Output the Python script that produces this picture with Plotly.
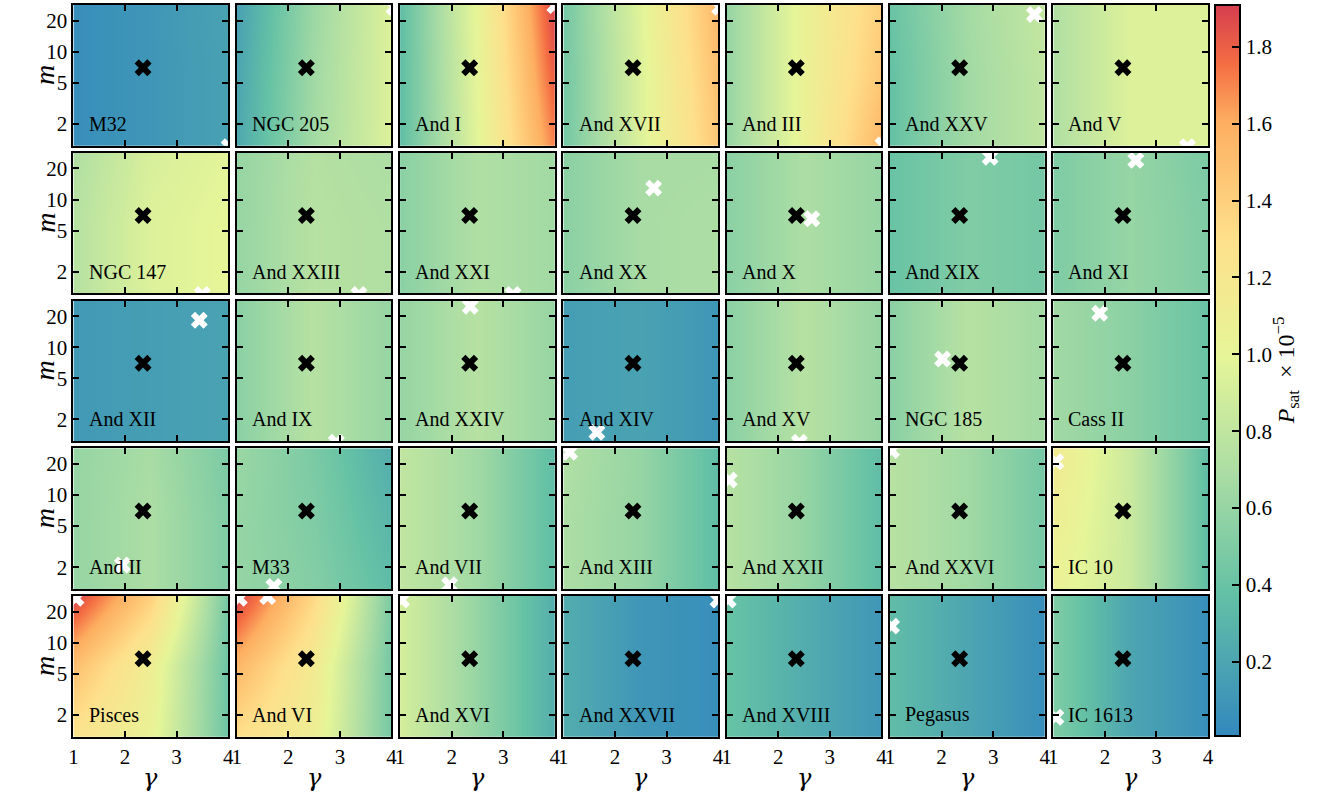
import numpy as np
import plotly.graph_objects as go

# ---------------- data ----------------
# grid nodes: columns gamma = 1, 2.5, 4 ; rows m = bottom, middle, top
gamma_nodes = [1.0, 2.5, 4.0]
m_nodes = [1.23, 5.9, 28.4]
black_marker = (2.35, 7.0)

names = [
    ["M32", "NGC 205", "And I", "And XVII", "And III", "And XXV", "And V"],
    ["NGC 147", "And XXIII", "And XXI", "And XX", "And X", "And XIX", "And XI"],
    ["And XII", "And IX", "And XXIV", "And XIV", "And XV", "NGC 185", "Cass II"],
    ["And II", "M33", "And VII", "And XIII", "And XXII", "And XXVI", "IC 10"],
    ["Pisces", "And VI", "And XVI", "And XXVII", "And XVIII", "Pegasus", "IC 1613"],
]

# P_sat (x 1e-5) on grid: [m_bottom row, m_mid row, m_top row], each [g=1, g=2.5, g=4]
p_m32      = [[0.05, 0.10, 0.17], [0.05, 0.10, 0.17], [0.05, 0.10, 0.18]]
p_ngc205   = [[0.22, 0.66, 0.95], [0.20, 0.65, 0.95], [0.17, 0.63, 0.95]]
p_and1     = [[0.36, 0.98, 1.72], [0.36, 1.00, 1.82], [0.36, 1.02, 1.90]]
p_and17    = [[0.45, 0.95, 1.45], [0.45, 0.95, 1.50], [0.45, 0.97, 1.55]]
p_and3     = [[0.60, 1.05, 1.55], [0.60, 1.05, 1.45], [0.60, 1.05, 1.40]]
p_and25    = [[0.38, 0.65, 0.80], [0.38, 0.65, 0.80], [0.40, 0.66, 0.82]]
p_and5     = [[0.72, 0.95, 0.95], [0.72, 0.95, 0.95], [0.72, 0.95, 0.95]]

p_ngc147   = [[0.75, 0.95, 1.00], [0.75, 0.95, 1.00], [0.72, 0.92, 0.98]]
p_and23    = [[0.60, 0.75, 0.72], [0.60, 0.75, 0.72], [0.60, 0.74, 0.70]]
p_and21    = [[0.55, 0.72, 0.65], [0.55, 0.72, 0.65], [0.55, 0.72, 0.65]]
p_and20    = [[0.55, 0.68, 0.70], [0.55, 0.68, 0.70], [0.55, 0.68, 0.68]]
p_and10    = [[0.55, 0.70, 0.60], [0.55, 0.70, 0.60], [0.55, 0.70, 0.60]]
p_and19    = [[0.40, 0.50, 0.45], [0.40, 0.50, 0.45], [0.40, 0.50, 0.45]]
p_and11    = [[0.50, 0.60, 0.50], [0.50, 0.60, 0.50], [0.50, 0.60, 0.48]]

p_and12    = [[0.12, 0.15, 0.18], [0.12, 0.15, 0.18], [0.12, 0.15, 0.18]]
p_and9     = [[0.55, 0.75, 0.60], [0.55, 0.75, 0.60], [0.55, 0.75, 0.60]]
p_and24    = [[0.60, 0.75, 0.60], [0.60, 0.75, 0.60], [0.60, 0.75, 0.60]]
p_and14    = [[0.15, 0.18, 0.10], [0.15, 0.18, 0.10], [0.15, 0.18, 0.10]]
p_and15    = [[0.55, 0.75, 0.60], [0.55, 0.75, 0.60], [0.55, 0.75, 0.60]]
p_ngc185   = [[0.55, 0.75, 0.65], [0.55, 0.75, 0.65], [0.55, 0.75, 0.65]]
p_cass2    = [[0.65, 0.55, 0.40], [0.65, 0.55, 0.40], [0.65, 0.55, 0.40]]

p_and2     = [[0.60, 0.70, 0.50], [0.60, 0.70, 0.50], [0.60, 0.68, 0.48]]
p_m33      = [[0.60, 0.52, 0.35], [0.60, 0.50, 0.30], [0.62, 0.48, 0.25]]
p_and7     = [[0.80, 0.65, 0.35], [0.80, 0.65, 0.35], [0.80, 0.65, 0.35]]
p_and13    = [[0.70, 0.60, 0.35], [0.70, 0.60, 0.35], [0.72, 0.60, 0.35]]
p_and22    = [[0.75, 0.60, 0.35], [0.75, 0.60, 0.35], [0.75, 0.60, 0.35]]
p_and26    = [[0.75, 0.65, 0.45], [0.75, 0.65, 0.45], [0.75, 0.65, 0.45]]
p_ic10     = [[1.05, 0.85, 0.35], [1.10, 0.85, 0.35], [1.15, 0.85, 0.35]]

p_pisces   = [[1.25, 1.05, 0.42], [1.50, 1.10, 0.42], [1.90, 1.40, 0.45]]
p_and6     = [[1.30, 1.10, 0.45], [1.55, 1.15, 0.45], [1.90, 1.35, 0.48]]
p_and16    = [[0.90, 0.60, 0.25], [0.90, 0.60, 0.25], [0.90, 0.60, 0.25]]
p_and27    = [[0.25, 0.10, 0.05], [0.25, 0.10, 0.05], [0.25, 0.10, 0.05]]
p_and18    = [[0.40, 0.25, 0.10], [0.40, 0.25, 0.10], [0.40, 0.25, 0.10]]
p_pegasus  = [[0.35, 0.20, 0.05], [0.35, 0.20, 0.05], [0.35, 0.20, 0.05]]
p_ic1613   = [[0.50, 0.20, 0.05], [0.50, 0.20, 0.05], [0.50, 0.20, 0.05]]

psat_grids = [
    [p_m32, p_ngc205, p_and1, p_and17, p_and3, p_and25, p_and5],
    [p_ngc147, p_and23, p_and21, p_and20, p_and10, p_and19, p_and11],
    [p_and12, p_and9, p_and24, p_and14, p_and15, p_ngc185, p_cass2],
    [p_and2, p_m33, p_and7, p_and13, p_and22, p_and26, p_ic10],
    [p_pisces, p_and6, p_and16, p_and27, p_and18, p_pegasus, p_ic1613],
]

# white markers (gamma, m) per panel
white_gamma = [
    [[4.02], [4.05], [4.0], [4.03], [4.03], [3.8], [3.6]],
    [[3.5], [3.37], [3.19], [2.75], [2.65], [2.94], [2.6]],
    [[3.44], [2.93], [2.36], [1.65], [2.41], [2.02], [1.9]],
    [[1.95], [1.72], [1.96], [1.12], [1.05], [1.03], [1.05]],
    [[1.05], [1.05, 1.6], [1.03], [4.0], [1.03], [1.03], [1.05]],
]
white_m = [
    [[1.2], [27], [28], [27], [1.25], [23], [1.2]],
    [[1.2], [1.2], [1.2], [12.9], [6.5], [25.7], [24]],
    [[18.3], [1.2], [25], [1.5], [1.2], [7.7], [21.4]],
    [[2.1], [1.3], [1.35], [26], [14], [27], [21]],
    [[27], [27, 28], [26], [26], [26], [14.5], [1.9]],
]

cbar_ticks = [0.2, 0.4, 0.6, 0.8, 1.0, 1.2, 1.4, 1.6, 1.8]
cmin, cmax = 0.007, 1.909

colorscale = [
    [0.00, "#3288bd"], [0.20, "#66c2a5"], [0.36, "#abdda4"], [0.52, "#e6f598"],
    [0.68, "#fee08b"], [0.84, "#fdae61"], [0.92, "#f46d43"], [1.00, "#d53e4f"],
]

# ---------------- layout geometry ----------------
W, H = 1336, 794
col_left0, col_step, col_w = 69, 164.67, 156
row_top0, row_step, row_h = 5, 147.75, 140.7
FONT = "Liberation Serif"

fig = go.Figure()
ytick_vals = [2, 5, 10, 20]
ylog_range = [np.log10(m_nodes[0]), np.log10(m_nodes[-1])]

annotations = []
k = 0
for r in range(5):
    for c in range(7):
        k += 1
        xa = "x" if k == 1 else f"x{k}"
        ya = "y" if k == 1 else f"y{k}"
        left = col_left0 + c * col_step
        top = row_top0 + r * row_step
        xd = [left / W, (left + col_w) / W]
        yd = [(H - (top + row_h)) / H, (H - top) / H]

        fig.add_trace(go.Heatmap(
            x=gamma_nodes, y=np.log10(m_nodes), z=psat_grids[r][c],
            coloraxis="coloraxis", zsmooth="best", xaxis=xa, yaxis=ya,
            hoverinfo="skip", showscale=False))
        fig.add_trace(go.Scatter(
            x=white_gamma[r][c], y=np.log10(white_m[r][c]), mode="markers",
            marker=dict(symbol="x", size=15, color="white", line=dict(width=0)),
            xaxis=xa, yaxis=ya, showlegend=False, hoverinfo="skip"))
        fig.add_trace(go.Scatter(
            x=[black_marker[0]], y=[np.log10(black_marker[1])], mode="markers",
            marker=dict(symbol="x", size=15, color="black", line=dict(width=0)),
            xaxis=xa, yaxis=ya, showlegend=False, hoverinfo="skip"))

        axis_common = dict(
            showline=True, linewidth=2, linecolor="black", mirror="allticks",
            ticks="inside", ticklen=6, tickwidth=1.5, tickcolor="black",
            showgrid=False, zeroline=False,
            tickfont=dict(family=FONT, size=21, color="black"))
        xkey = "xaxis" if k == 1 else f"xaxis{k}"
        ykey = "yaxis" if k == 1 else f"yaxis{k}"
        fig.layout[xkey] = dict(
            axis_common, domain=xd, anchor=ya, range=[1, 4],
            tickvals=[1, 2, 3, 4], ticktext=["1", "2", "3", "4"],
            showticklabels=(r == 4))
        fig.layout[ykey] = dict(
            axis_common, domain=yd, anchor=xa, range=ylog_range,
            tickvals=list(np.log10(ytick_vals)), ticktext=[str(v) for v in ytick_vals],
            showticklabels=(c == 0))

        annotations.append(dict(
            text=names[r][c], xref=f"{xa} domain", yref=f"{ya} domain",
            x=0.085, y=0.155, xanchor="left", yanchor="middle", showarrow=False,
            font=dict(family=FONT, size=20, color="black")))

# axis titles
for r in range(5):
    top = row_top0 + r * row_step
    annotations.append(dict(
        text="<i>m</i>", xref="paper", yref="paper", x=40 / W,
        y=(H - (top + row_h / 2)) / H, xanchor="center", yanchor="middle",
        showarrow=False, textangle=-90, font=dict(family=FONT, size=28, color="black")))
for c in range(7):
    left = col_left0 + c * col_step
    annotations.append(dict(
        text="<i>γ</i>", xref="paper", yref="paper", x=(left + col_w / 2) / W,
        y=(H - 778) / H, xanchor="center", yanchor="middle",
        showarrow=False, font=dict(family="DejaVu Serif", size=24, color="black")))
annotations.append(dict(
    text="<i>P</i><sub>sat</sub>  × 10<sup>−5</sup>", xref="paper", yref="paper",
    x=1292 / W, y=(H - 370) / H, xanchor="center", yanchor="middle",
    showarrow=False, textangle=-90, font=dict(family=FONT, size=24, color="black")))

fig.update_layout(
    width=W, height=H, margin=dict(l=0, r=0, t=0, b=0),
    paper_bgcolor="white", plot_bgcolor="white", showlegend=False,
    annotations=annotations,
    coloraxis=dict(
        colorscale=colorscale, cmin=cmin, cmax=cmax,
        colorbar=dict(
            x=1220 / W, xanchor="left", y=(H - 736) / H, yanchor="bottom",
            len=731, lenmode="pixels", thickness=25, thicknessmode="pixels",
            xpad=0, ypad=0, outlinewidth=2, outlinecolor="black",
            ticks="inside", ticklen=9, tickwidth=1.5, tickcolor="black",
            tickvals=cbar_ticks, ticktext=[f"{v:.1f}" for v in cbar_ticks],
            tickfont=dict(family=FONT, size=21, color="black"))),
)

fig.write_html("out.html")
